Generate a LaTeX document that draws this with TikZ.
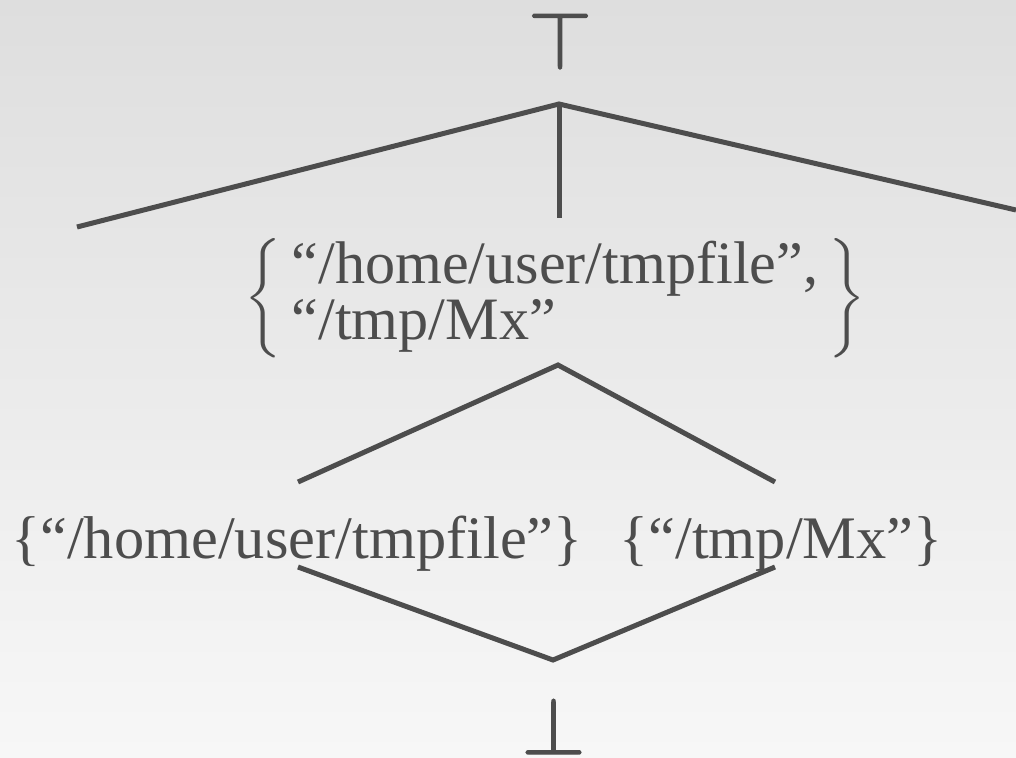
\documentclass[tikz,border=0pt]{standalone}
\usepackage{amsmath}
\usepackage{graphicx}
\usepackage{fontspec}
\setmainfont{Liberation Serif}
\definecolor{ink}{HTML}{4D4D4D}
\definecolor{bgtop}{HTML}{DEDEDE}
\definecolor{bgbot}{HTML}{F7F7F7}
\newcommand{\labelfont}{\fontsize{45.3}{40}\selectfont}
\newcommand{\setfont}{\fontsize{30.1}{26.67}\selectfont}
\newcommand{\symfont}{\fontsize{24.88}{30}\selectfont}
% glyphs painted with fill and a thin outline stroke, for a heavier look
\newcommand{\heavyglyph}[1]{\scalebox{2.472}{\special{pdf:literal direct 2 Tr 0.4 w}#1\special{pdf:literal direct 0 Tr}}}
\tikzset{
  edge/.style={draw=ink, line width=3.75pt},
  setlabel/.style={text=ink, font=\labelfont, inner sep=0pt},
  extreme/.style={text=ink, font=\symfont, inner sep=0pt, anchor=base},
}
\begin{document}
\begin{tikzpicture}[x=0.75pt, y=-0.75pt]
  % canvas with a soft vertical gradient
  \shade[top color=bgtop, bottom color=bgbot] (0,0) rectangle (1016,757);
  \useasboundingbox (0,0) rectangle (1016,757);

  % lattice elements
  \node[extreme] (top) at (560,69) {\heavyglyph{$\top$}};
  \node[extreme] (bot) at (553.5,754) {\heavyglyph{$\bot$}};
  \node[setlabel, font=\setfont] (both) at (555,298)
    {\scalebox{1.5}{$\left\{\begin{array}{l}\text{“/home/user/tmpfile”,}\\ \text{“/tmp/Mx”}\end{array}\right\}$}};
  \node[setlabel, anchor=base] (home) at (297,558) {\{“/home/user/tmpfile”\}};
  \node[setlabel, anchor=base] (tmp) at (781,558) {\{“/tmp/Mx”\}};

  % connector end points
  \coordinate (jtop) at (559,104);
  \coordinate (farleft) at (77,227);
  \coordinate (farright) at (1016,210);
  \coordinate (bothin) at (559,218);
  \coordinate (bothout) at (558,365);
  \coordinate (homein) at (298,482);
  \coordinate (tmpin) at (775,482);
  \coordinate (homeout) at (298,567);
  \coordinate (tmpout) at (775,567);
  \coordinate (jbot) at (553,660);

  % order relations
  \draw[edge] (farleft) -- (jtop) -- (farright);
  \draw[edge] (jtop) -- (bothin);
  \draw[edge] (homein) -- (bothout) -- (tmpin);
  \draw[edge] (homeout) -- (jbot) -- (tmpout);
\end{tikzpicture}
\end{document}
